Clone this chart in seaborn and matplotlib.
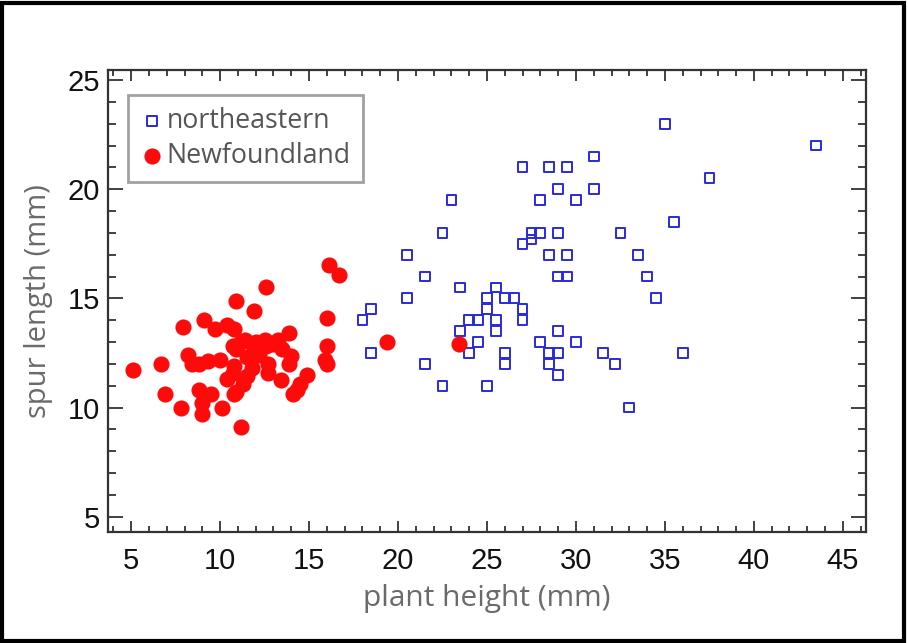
import matplotlib
matplotlib.use("Agg")
import matplotlib.pyplot as plt
import seaborn as sns
import pandas as pd
from matplotlib.ticker import MultipleLocator
from matplotlib.patches import Rectangle

# ---- data ----
ne_x = [27, 28.5, 29.5, 31, 29, 31, 23, 28, 30, 22.5, 27.5, 28, 29, 27, 27.5,
        20.5, 28.5, 29.5, 21.5, 29, 29.5, 23.5, 25.5, 20.5, 25, 26, 26.5, 18.5,
        25, 27, 18, 24, 24.5, 25.5, 27, 23.5, 25.5, 29, 24.5, 28, 30, 18.5, 24,
        26, 28.5, 29, 31.5, 21.5, 26, 28.5, 29, 22.5, 25,
        35, 43.5, 37.5, 35.5, 32.5, 33.5, 34, 34.5, 32.2, 36, 33]
ne_y = [21, 21, 21, 21.5, 20, 20, 19.5, 19.5, 19.5, 18, 18, 18, 18, 17.5, 17.7,
        17, 17, 17, 16, 16, 16, 15.5, 15.5, 15, 15, 15, 15, 14.5,
        14.5, 14.5, 14, 14, 14, 14, 14, 13.5, 13.5, 13.5, 13, 13, 13, 12.5, 12.5,
        12.5, 12.5, 12.5, 12.5, 12, 12, 12, 11.5, 11, 11,
        23, 22, 20.5, 18.5, 18, 17, 16, 15, 12, 12.5, 10]

nf_x = [5.1, 6.7, 6.9, 7.8, 7.9, 8.2, 8.4, 8.8, 8.8, 9.0, 9.0, 9.1, 9.3, 9.5,
        9.7, 10.0, 10.1, 10.4, 10.4, 10.7, 10.8, 10.9, 10.8, 10.8, 11.2, 11.4,
        11.9, 12.6, 12.5, 13.25, 13.9, 10.9, 11.9, 12.6, 13.5, 14.0, 15.9, 13.9,
        16.0, 12.7, 11.8, 10.7, 12.7, 14.9, 11.5, 13.4, 14.5, 11.3, 14.3, 14.1,
        10.9, 16.0, 16.0, 16.1, 16.7, 19.4, 23.4, 11.2, 12.0, 13.0, 11.5, 12.2]
nf_y = [11.7, 12.0, 10.6, 10.0, 13.7, 12.4, 12.0, 12.0, 10.8, 10.2, 9.7, 14.0,
        12.15, 10.6, 13.6, 12.2, 10.0, 13.8, 11.3, 12.8, 13.6, 14.9, 10.6, 11.9,
        9.1, 13.1, 14.4, 15.5, 13.1, 13.1, 13.4, 12.66, 12.66, 12.8, 12.66, 12.35,
        12.2, 12.0, 12.0, 12.0, 11.8, 11.6, 11.6, 11.5, 11.44, 11.28, 11.1, 11.1,
        10.8, 10.6, 10.7, 12.8, 14.1, 16.55, 16.05, 13.0, 12.9, 13.0, 13.0, 12.9,
        12.3, 12.4]

x_label = "plant height (mm)"
y_label = "spur length (mm)"
series_names = ["northeastern", "Newfoundland"]

# ---- plot ----
sns.set_theme(style="white")
plt.rcParams["font.family"] = ["Liberation Sans", "DejaVu Sans"]

fig = plt.figure(figsize=(9.08, 6.43), dpi=100)
ax = fig.add_axes([108 / 908, 1 - 532 / 643, 758 / 908, 462 / 643])

df_ne = pd.DataFrame({"x": ne_x, "y": ne_y})
df_nf = pd.DataFrame({"x": nf_x, "y": nf_y})

sns.scatterplot(data=df_ne, x="x", y="y", ax=ax, marker="s", s=50,
                facecolor="none", edgecolor="#2a2ae0", linewidth=1.4,
                label=series_names[0], zorder=3)
sns.scatterplot(data=df_nf, x="x", y="y", ax=ax, marker="o", s=135,
                color="#ff0a0a", edgecolor="#ff0a0a", linewidth=0,
                label=series_names[1], zorder=3)

ax.set_xlim(3.7, 46.3)
ax.set_ylim(4.3, 25.46)
ax.xaxis.set_major_locator(MultipleLocator(5))
ax.xaxis.set_minor_locator(MultipleLocator(1))
ax.yaxis.set_major_locator(MultipleLocator(5))
ax.yaxis.set_minor_locator(MultipleLocator(1))

spine_col = "#333333"
for sp in ax.spines.values():
    sp.set_visible(True)
    sp.set_color(spine_col)
    sp.set_linewidth(1.6)

ax.tick_params(axis="both", which="both", direction="in", top=True, right=True,
               bottom=True, left=True, color=spine_col, width=1.3)
ax.tick_params(axis="x", which="major", length=8, labelsize=21, pad=11,
               labelcolor="#111111")
ax.tick_params(axis="x", which="minor", length=4)
ax.tick_params(axis="y", which="major", length=11, labelsize=21, pad=6,
               labelcolor="#111111")
ax.tick_params(axis="y", which="minor", length=6)

ax.set_xlabel(x_label, fontsize=21.5, color="#6a6a6a", family=["Open Sans", "DejaVu Sans"],
              labelpad=6)
ax.set_ylabel(y_label, fontsize=21, color="#6a6a6a", family=["Open Sans", "DejaVu Sans"],
              labelpad=10)

leg = ax.legend(loc="upper left", bbox_to_anchor=(0.026, 0.946), frameon=True,
                fancybox=False, borderpad=0.45, handletextpad=0.1,
                handlelength=0.9, labelspacing=0.25,
                prop={"family": ["Open Sans", "DejaVu Sans"], "size": 19.3},
                borderaxespad=0)
leg.get_frame().set_edgecolor("#8a8a8a")
leg.get_frame().set_linewidth(2)
for t in leg.get_texts():
    t.set_color("#555555")

fig.add_artist(Rectangle((0.002, 0.003), 0.994, 0.993, transform=fig.transFigure,
                         fill=False, edgecolor="black", linewidth=3))

fig.savefig("out.png", dpi=100, facecolor="white")
